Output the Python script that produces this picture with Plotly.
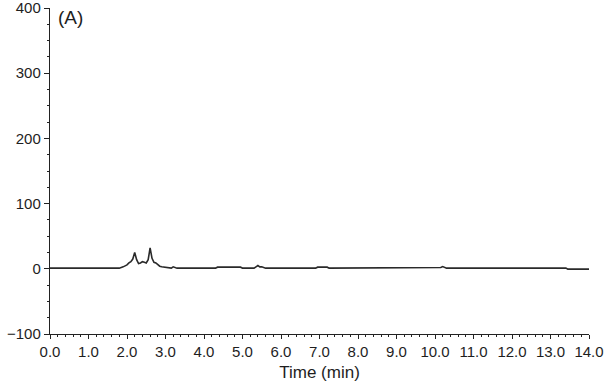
import plotly.graph_objects as go

# Chromatogram trace (time in min, signal)
time_min = [0.0, 1.0, 1.8, 1.9, 2.0, 2.05, 2.1, 2.15, 2.2, 2.25, 2.3, 2.35, 2.4, 2.45, 2.5,
            2.55, 2.6, 2.65, 2.7, 2.75, 2.8, 2.85, 2.9, 3.0, 3.1, 3.15, 3.2, 3.25, 3.3, 3.4,
            4.3, 4.35, 4.95, 5.0, 5.3, 5.35, 5.4, 5.45, 5.5, 5.6, 6.9, 6.95, 7.2, 7.25,
            10.1, 10.15, 10.2, 10.25, 10.3, 13.4, 13.45, 14.0]
signal = [1, 1, 1, 3, 6, 9, 11, 15, 25, 14, 8, 9, 11, 10, 9,
          14, 32, 16, 10, 9, 6, 4, 3, 2, 1, 1, 3, 2, 1, 1,
          1, 2.5, 2.5, 1, 1, 3, 5, 3, 3, 1, 1, 2.5, 2.5, 1,
          1, 2, 3.5, 2, 1, 1, -0.5, -0.5]

x_ticks = [i * 1.0 for i in range(15)]
x_labels = [f"{v:.1f}" for v in x_ticks]
y_ticks = [-100, 0, 100, 200, 300, 400]

FONT = "Liberation Sans, Arial, sans-serif"

fig = go.Figure()
fig.add_trace(go.Scatter(x=time_min, y=signal, mode="lines",
                         line=dict(color="#2a2a2a", width=1.6), showlegend=False))

axis_font = dict(family=FONT, size=15, color="#1e1e1e")

fig.update_layout(
    width=612, height=386,
    margin=dict(l=50, r=23, t=8, b=52),
    paper_bgcolor="white", plot_bgcolor="white",
    xaxis=dict(range=[0, 14], tickvals=x_ticks, ticktext=x_labels, automargin=False,
               showgrid=False, zeroline=False, showline=True, linecolor="#222222", linewidth=1.4,
               ticks="outside", ticklen=4, tickcolor="#222222", tickwidth=1.4, tickfont=axis_font,
               ticklabeloverflow="allow",
               minor=dict(dtick=0.2, ticks="outside", ticklen=2, tickcolor="#222222", tickwidth=1.4),
               title=dict(text="Time (min)", font=dict(family=FONT, size=17, color="#1e1e1e"), standoff=6)),
    yaxis=dict(range=[-100, 400], tickvals=y_ticks, automargin=False,
               showgrid=False, zeroline=False, showline=True, linecolor="#222222", linewidth=1.4,
               ticks="outside", ticklen=5, tickcolor="#222222", tickwidth=1.4, tickfont=axis_font,
               ticklabeloverflow="allow",
               minor=dict(dtick=25, ticks="outside", ticklen=2, tickcolor="#222222", tickwidth=1.4)),
    annotations=[dict(text="(A)", x=0.012, y=1.01, xref="paper", yref="paper",
                      xanchor="left", yanchor="top", showarrow=False,
                      font=dict(family=FONT, size=19, color="#1e1e1e"))],
)

fig.write_html("out.html")
